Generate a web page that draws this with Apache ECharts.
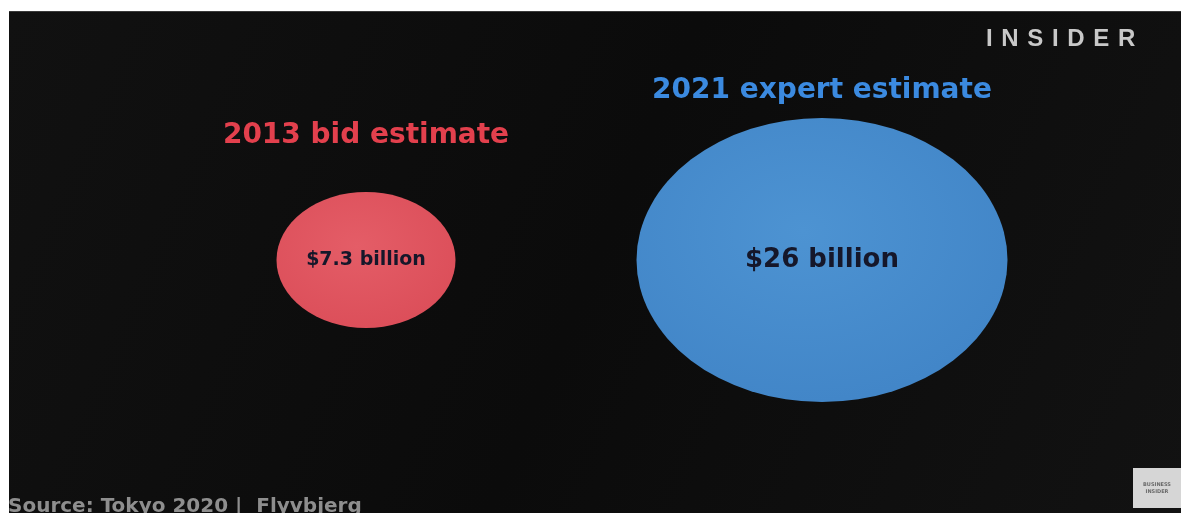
<!DOCTYPE html>
<html>
<head>
<meta charset="utf-8">
<script src="https://cdn.jsdelivr.net/npm/echarts@6/dist/echarts.min.js"></script>
<style>
html,body{margin:0;padding:0;background:#ffffff;}
#chart{width:1181px;height:513px;}
</style>
</head>
<body>
<div id="chart"></div>
<script>
// ---- data ----
const categories = ['2013 bid estimate', '2021 expert estimate'];
const values = [7.3, 26];
const valueLabels = ['$7.3 billion', '$26 billion'];
const brand = 'INSIDER';
const sourceText = 'Source: Tokyo 2020 |  Flyvbjerg';

// ---- styles (not data) ----
const sizes = [[179, 136], [371, 284]];
const fills = [
  {inner: '#e45d67', outer: '#dc4f5a'},
  {inner: '#4d93d2', outer: '#4286c8'}
];
const titleColors = ['#e3404d', '#3b8ae0'];
const titleDist = [42, 13];
const valueFont = [19, 26];

const chart = echarts.init(document.getElementById('chart'));

const circleData = values.map((v, i) => ({
  value: [i, 0, v],
  symbolSize: sizes[i],
  itemStyle: {
    opacity: 1,
    color: {
      type: 'radial', x: 0.45, y: 0.4, r: 0.6,
      colorStops: [{offset: 0, color: fills[i].inner}, {offset: 1, color: fills[i].outer}]
    }
  },
  label: {
    show: true, position: 'inside', formatter: valueLabels[i],
    fontSize: valueFont[i], fontWeight: 'bold', color: '#15172a',
    fontFamily: 'DejaVu Sans'
  }
}));

const titleData = values.map((v, i) => ({
  value: [i, 0, v],
  symbolSize: sizes[i],
  itemStyle: {color: 'rgba(0,0,0,0)', opacity: 1},
  label: {
    show: true, position: 'top', distance: titleDist[i],
    formatter: categories[i], fontSize: 28, fontWeight: 'bold',
    color: titleColors[i], fontFamily: 'DejaVu Sans'
  }
}));

const option = {
  backgroundColor: '#ffffff',
  animation: false,
  grid: {left: 366, right: 359, top: 11, bottom: 4},
  xAxis: {type: 'value', min: 0, max: 1, show: false},
  yAxis: {type: 'value', min: -1, max: 1, show: false},
  graphic: [
    {type: 'rect', z: -100, silent: true, shape: {x: 9, y: 11, width: 1172, height: 502},
     style: {fill: {type: 'linear', x: 0, y: 0, x2: 1, y2: 1,
       colorStops: [{offset: 0, color: '#111111'}, {offset: 0.5, color: '#0b0b0b'}, {offset: 1, color: '#121212'}]}}},
    {type: 'rect', z: -99, silent: true, shape: {x: 9, y: 11, width: 1172, height: 1}, style: {fill: '#3a3a3a'}},
    {type: 'text', z: 10, left: 986, top: 27,
     style: {text: brand.split('').join(' \u200A'), fontSize: 24, fontWeight: 'bold',
       fontFamily: 'Liberation Sans', fill: '#c8c8c8'}},
    {type: 'text', z: 10, left: 8, top: 497,
     style: {text: sourceText, fontSize: 20, fontWeight: 'bold',
       fontFamily: 'DejaVu Sans', fill: '#8e8e8e'}},
    {type: 'rect', z: 10, shape: {x: 1133, y: 468, width: 48, height: 40}, style: {fill: '#d6d6d6'}},
    {type: 'text', z: 11,
     style: {x: 1157, y: 481, text: 'BUSINESS\nINSIDER', fontSize: 5, lineHeight: 7, fontWeight: 'bold',
       fontFamily: 'DejaVu Sans', fill: '#6a6a6a', align: 'center'}}
  ],
  series: [
    {type: 'scatter', symbol: 'circle', data: circleData, z: 2},
    {type: 'scatter', symbol: 'circle', data: titleData, z: 3, silent: true}
  ]
};
chart.setOption(option);
</script>
</body>
</html>
